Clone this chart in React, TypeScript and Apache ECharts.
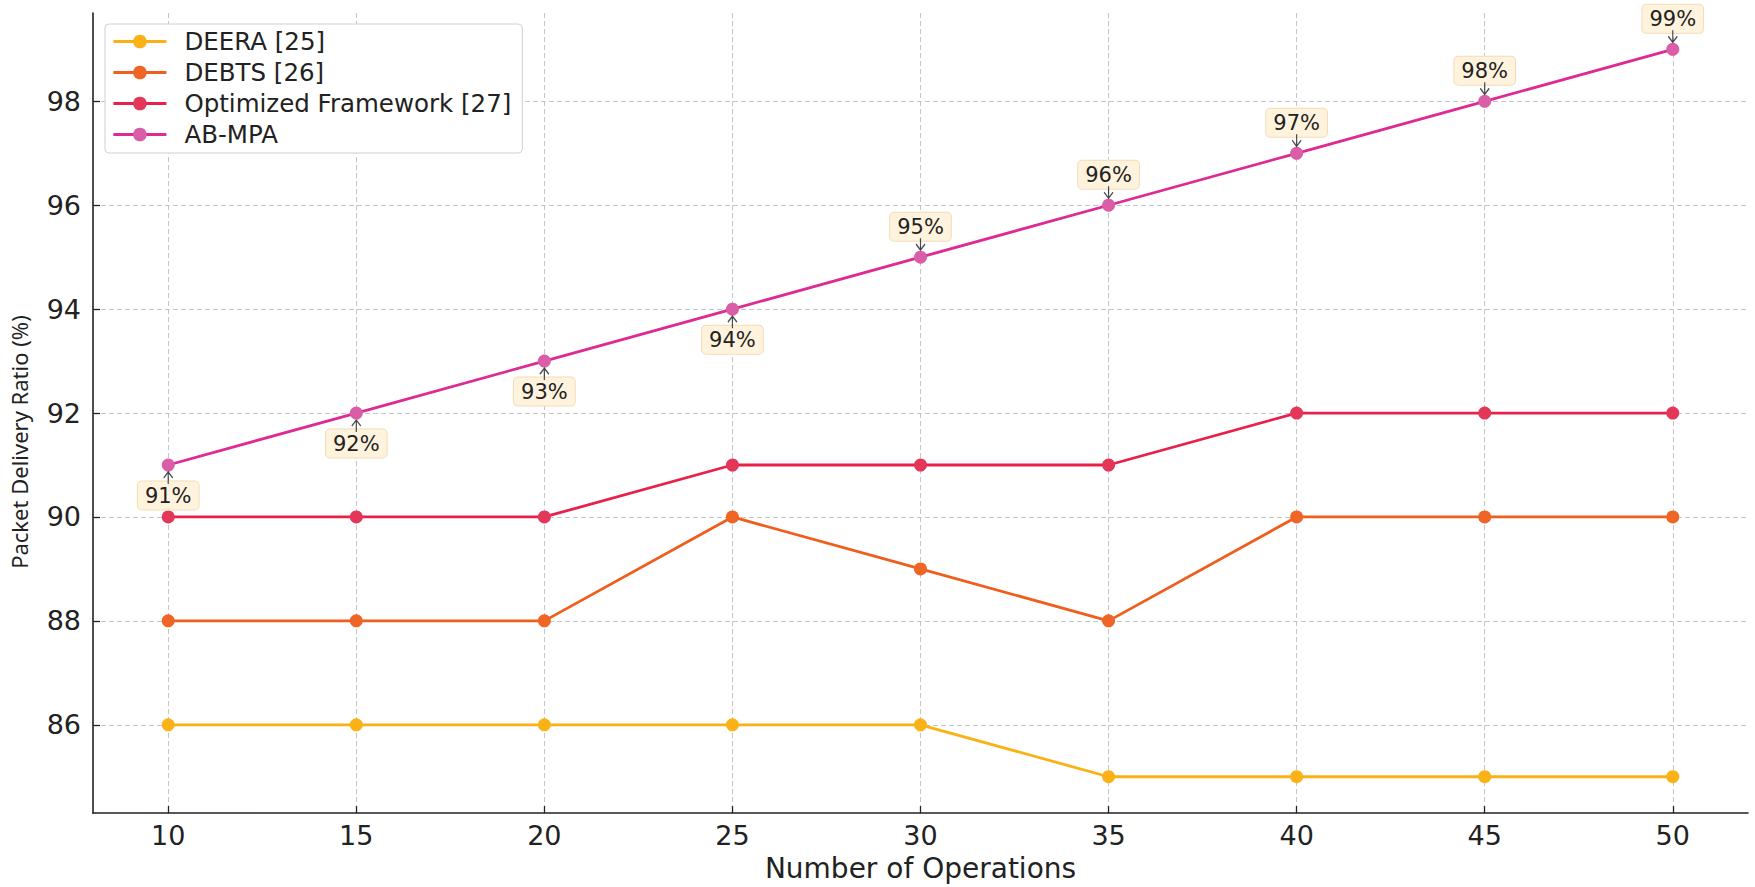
import React, { useEffect, useRef } from "react";
import * as echarts from "echarts";

const operations = [10, 15, 20, 25, 30, 35, 40, 45, 50];
const deera = [86, 86, 86, 86, 86, 85, 85, 85, 85];
const debts = [88, 88, 88, 90, 89, 88, 90, 90, 90];
const optimized = [90, 90, 90, 91, 91, 91, 92, 92, 92];
const abmpa = [91, 92, 93, 94, 95, 96, 97, 98, 99];
const seriesNames = ["DEERA [25]", "DEBTS [26]", "Optimized Framework [27]", "AB-MPA"];
const xTicks = [10, 15, 20, 25, 30, 35, 40, 45, 50];
const yTicks = [86, 88, 90, 92, 94, 96, 98];
const labelSide = ["bottom", "bottom", "bottom", "bottom", "top", "top", "top", "top", "top"];

const lineColors = ["#FBB013", "#EF5E1C", "#E8204A", "#DE2A93"];
const markerColors = ["#FBB216", "#EE6526", "#E33658", "#D95DA7"];

const FONT = "DejaVu Sans";

export default function App() {
  const ref = useRef<HTMLDivElement>(null);

  useEffect(() => {
    if (!ref.current) return;
    const chart = echarts.init(ref.current, undefined, { renderer: "svg" });
    const pairs = (ys: number[]) => operations.map((x, i) => [x, ys[i]]);
    const all = [deera, debts, optimized, abmpa];

    const lineSeries: any[] = all.map((ys, k) => ({
      type: "line",
      name: seriesNames[k],
      data:
        k === 3
          ? operations.map((x, i) => ({
              value: [x, ys[i]],
              label: { position: labelSide[i] },
            }))
          : pairs(ys),
      symbol: "circle",
      symbolSize: 13,
      showAllSymbol: true,
      lineStyle: { color: lineColors[k], width: 2.8 },
      itemStyle: { color: markerColors[k] },
      z: 2 + k,
      label:
        k === 3
          ? {
              show: true,
              distance: 10,
              formatter: (p: any) => p.value[1] + "%",
              fontSize: 21,
              fontFamily: FONT,
              color: "#222",
              backgroundColor: "#FFF3DE",
              borderColor: "#F2DCB5",
              borderWidth: 1,
              borderRadius: 4,
              padding: [4, 7, 3, 7],
            }
          : { show: false },
      emphasis: { disabled: true },
    }));

    const arrowSeries = {
      type: "scatter",
      name: "arrows",
      silent: true,
      z: 10,
      symbol: "path://M5,0L5,12M1,6L5,12L9,6",
      symbolSize: [9, 12],
      itemStyle: { color: "transparent", borderColor: "#222", borderWidth: 1.4 },
      data: operations.map((x, i) => ({
        value: [x, abmpa[i]],
        symbolRotate: labelSide[i] === "top" ? 0 : 180,
        symbolOffset: [0, labelSide[i] === "top" ? -13 : 13],
      })),
    };

    const axisCommon = {
      type: "value",
      axisLine: { show: true, lineStyle: { color: "#222", width: 1.6 } },
      axisTick: { show: true, inside: true, length: 7, lineStyle: { color: "#222", width: 1.3 } },
      splitLine: {
        show: true,
        lineStyle: { type: [5, 3], color: "#c4c4ca", width: 1 },
      },
      nameLocation: "middle",
    };

    chart.setOption({
      animation: false,
      backgroundColor: "#ffffff",
      grid: { left: 92, right: 7, top: 13, bottom: 69, containLabel: false },
      legend: {
        data: seriesNames,
        orient: "vertical",
        left: 105,
        top: 24,
        itemWidth: 53,
        itemHeight: 17,
        itemGap: 6,
        padding: [5, 11, 6, 7],
        backgroundColor: "#ffffff",
        borderColor: "#d0d0d0",
        borderWidth: 1,
        borderRadius: 4,
        lineStyle: { width: 2.8 },
        textStyle: {
          fontSize: 24.5,
          fontFamily: FONT,
          color: "#222",
          lineHeight: 25,
          padding: [0, 0, 0, 13],
        },
      },
      xAxis: {
        ...axisCommon,
        min: 8,
        max: 52,
        splitNumber: 9,
        axisTick: { ...axisCommon.axisTick, customValues: xTicks },
        axisLabel: {
          customValues: xTicks,
          fontSize: 27,
          fontFamily: FONT,
          color: "#222",
          margin: 9,
        },
        name: "Number of Operations",
        nameGap: 31,
        nameTextStyle: { fontSize: 28, fontFamily: FONT, color: "#222" },
      },
      yAxis: {
        ...axisCommon,
        min: 84.3,
        max: 99.7,
        splitNumber: 7,
        axisTick: { ...axisCommon.axisTick, customValues: yTicks },
        axisLabel: {
          customValues: yTicks,
          fontSize: 27,
          fontFamily: FONT,
          color: "#222",
          margin: 12,
        },
        name: "Packet Delivery Ratio (%)",
        nameGap: 63,
        nameTextStyle: {
          fontSize: 22,
          fontFamily: "Noto Sans",
          color: "#222",
          padding: [0, 58, 0, 0],
        },
      },
      series: [...lineSeries, arrowSeries],
    });

    return () => chart.dispose();
  }, []);

  return (
    <div
      ref={ref}
      style={{ position: "fixed", left: 0, top: 0, width: 1755, height: 887, background: "#fff" }}
    />
  );
}
